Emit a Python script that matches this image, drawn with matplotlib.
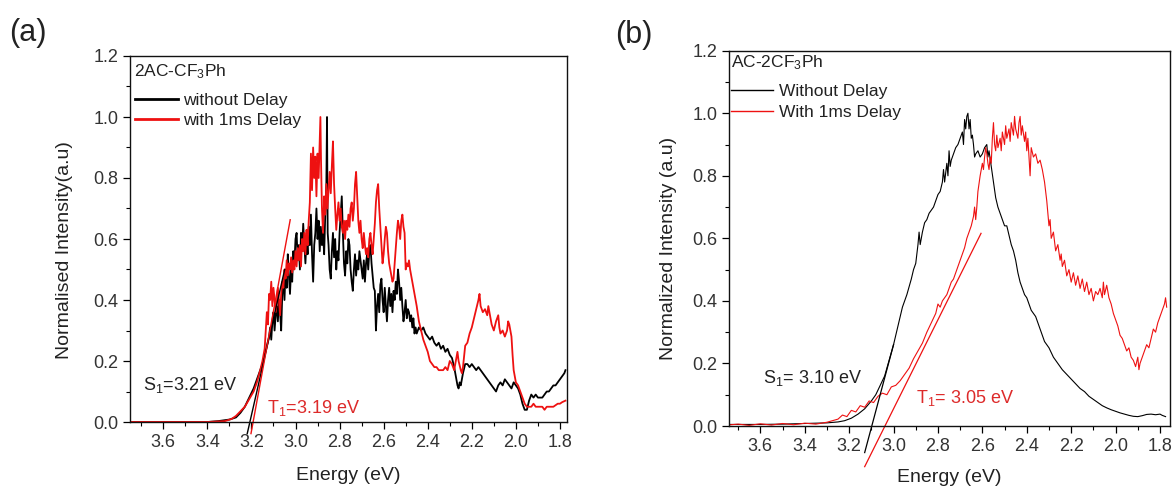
import matplotlib
matplotlib.use("Agg")
import matplotlib.pyplot as plt
from matplotlib.ticker import MultipleLocator

plt.rcParams['font.family'] = ['Liberation Sans', 'DejaVu Sans']
plt.rcParams['mathtext.default'] = 'regular'

# ---------------- Panel (a) data: 2AC-CF3Ph ----------------
a_black_E = [3.75, 3.40, 3.35, 3.30, 3.27, 3.25, 3.23, 3.21, 3.19, 3.17, 3.15, 3.14, 3.13, 3.12, 3.115, 3.11,
             3.105, 3.10, 3.095, 3.09, 3.085, 3.08, 3.075, 3.07, 3.065, 3.06, 3.055, 3.05, 3.045, 3.04, 3.035,
             3.03, 3.025, 3.02, 3.015, 3.01, 3.005, 3.00, 2.995, 2.99, 2.985, 2.98, 2.975, 2.97, 2.965, 2.96,
             2.955, 2.95, 2.945, 2.94, 2.935, 2.93, 2.925, 2.92, 2.915, 2.91, 2.905, 2.90, 2.895, 2.89, 2.885,
             2.88, 2.875, 2.87, 2.865, 2.86, 2.857, 2.854, 2.85, 2.845, 2.84, 2.835, 2.83, 2.825, 2.82, 2.815,
             2.81, 2.805, 2.80, 2.795, 2.79, 2.785, 2.78, 2.775, 2.77, 2.765, 2.76, 2.755, 2.75, 2.745, 2.74,
             2.735, 2.73, 2.725, 2.72, 2.715, 2.71, 2.70, 2.695, 2.69, 2.685, 2.68, 2.675, 2.67, 2.665, 2.66,
             2.655, 2.65, 2.645, 2.64, 2.635, 2.63, 2.625, 2.62, 2.615, 2.61, 2.605, 2.60, 2.595, 2.59, 2.585,
             2.58, 2.575, 2.57, 2.565, 2.56, 2.555, 2.55, 2.545, 2.54, 2.535, 2.53, 2.525, 2.52, 2.515, 2.51,
             2.505, 2.50, 2.495, 2.49, 2.485, 2.48, 2.475, 2.47, 2.465, 2.46, 2.455, 2.45, 2.44, 2.43, 2.42,
             2.41, 2.40, 2.39, 2.38, 2.37, 2.36, 2.35, 2.34, 2.33, 2.32, 2.31, 2.30, 2.29, 2.28, 2.27, 2.265,
             2.26, 2.255, 2.25, 2.245, 2.24, 2.23, 2.22, 2.21, 2.20, 2.19, 2.18, 2.17, 2.16, 2.15, 2.14, 2.13,
             2.12, 2.11, 2.10, 2.09, 2.08, 2.07, 2.06, 2.05, 2.04, 2.03, 2.02, 2.01, 2.00, 1.99, 1.98, 1.97,
             1.96, 1.95, 1.94, 1.93, 1.92, 1.91, 1.90, 1.89, 1.88, 1.87, 1.86, 1.85, 1.84, 1.83, 1.82, 1.81,
             1.80, 1.79, 1.78, 1.775]
a_black_I = [0.0, 0.0, 0.003, 0.008, 0.015, 0.03, 0.05, 0.08, 0.11, 0.15, 0.19, 0.22, 0.25, 0.28, 0.31, 0.27,
             0.33, 0.36, 0.30, 0.35, 0.38, 0.33, 0.40, 0.36, 0.30, 0.42, 0.47, 0.40, 0.50, 0.44, 0.55,
             0.48, 0.42, 0.50, 0.46, 0.56, 0.52, 0.60, 0.62, 0.53, 0.58, 0.50, 0.62, 0.56, 0.65, 0.58,
             0.52, 0.60, 0.55, 0.64, 0.58, 0.68, 0.55, 0.46, 0.58, 0.62, 0.70, 0.60, 0.66, 0.56, 0.64,
             0.58, 0.62, 0.55, 0.68, 0.78, 1.00, 0.62, 0.58, 0.50, 0.47, 0.56, 0.62, 0.54, 0.60, 0.50,
             0.56, 0.53, 0.62, 0.68, 0.74, 0.62, 0.52, 0.48, 0.56, 0.52, 0.60, 0.58, 0.50, 0.46, 0.43,
             0.50, 0.55, 0.48, 0.53, 0.50, 0.56, 0.50, 0.47, 0.53, 0.46, 0.52, 0.55, 0.50, 0.56, 0.58,
             0.52, 0.48, 0.44, 0.43, 0.30, 0.38, 0.42, 0.36, 0.45, 0.47, 0.40, 0.36, 0.44, 0.38, 0.33,
             0.40, 0.44, 0.38, 0.42, 0.36, 0.43, 0.40, 0.46, 0.42, 0.50, 0.46, 0.40, 0.44, 0.38, 0.33,
             0.36, 0.40, 0.34, 0.37, 0.36, 0.33, 0.35, 0.31, 0.34, 0.29, 0.31, 0.29, 0.31, 0.30, 0.31,
             0.29, 0.28, 0.27, 0.28, 0.26, 0.25, 0.26, 0.24, 0.25, 0.23, 0.24, 0.22, 0.21, 0.18, 0.14, 0.12,
             0.11, 0.13, 0.12, 0.14, 0.16, 0.19, 0.19, 0.18, 0.19, 0.18, 0.17, 0.18, 0.17, 0.16, 0.15, 0.14,
             0.13, 0.12, 0.11, 0.10, 0.12, 0.13, 0.12, 0.14, 0.13, 0.12, 0.11, 0.13, 0.12, 0.11, 0.09, 0.06,
             0.04, 0.04, 0.07, 0.09, 0.08, 0.09, 0.08, 0.08, 0.08, 0.09, 0.10, 0.10, 0.11, 0.12, 0.12, 0.13,
             0.14, 0.15, 0.16, 0.17]

a_red_E = [3.75, 3.40, 3.32, 3.29, 3.27, 3.25, 3.23, 3.21, 3.19, 3.175, 3.16, 3.15, 3.14, 3.135, 3.13, 3.125,
           3.12, 3.115, 3.11, 3.105, 3.10, 3.095, 3.09, 3.085, 3.08, 3.075, 3.07, 3.065, 3.06, 3.055, 3.05,
           3.045, 3.04, 3.035, 3.03, 3.025, 3.02, 3.015, 3.01, 3.005, 3.00, 2.995, 2.99, 2.985, 2.98, 2.975,
           2.97, 2.965, 2.96, 2.955, 2.95, 2.945, 2.94, 2.935, 2.93, 2.925, 2.92, 2.915, 2.91, 2.905, 2.90,
           2.895, 2.89, 2.887, 2.884, 2.88, 2.875, 2.87, 2.865, 2.86, 2.855, 2.85, 2.845, 2.84, 2.835, 2.83,
           2.825, 2.82, 2.815, 2.81, 2.805, 2.80, 2.795, 2.79, 2.785, 2.78, 2.775, 2.77, 2.765, 2.76, 2.755,
           2.75, 2.745, 2.74, 2.735, 2.73, 2.725, 2.72, 2.715, 2.71, 2.705, 2.70, 2.695, 2.69, 2.685, 2.68,
           2.675, 2.67, 2.665, 2.66, 2.655, 2.65, 2.645, 2.64, 2.635, 2.63, 2.625, 2.62, 2.615, 2.61, 2.605,
           2.60, 2.595, 2.59, 2.585, 2.58, 2.575, 2.57, 2.565, 2.56, 2.555, 2.55, 2.545, 2.54, 2.535, 2.53,
           2.525, 2.52, 2.515, 2.51, 2.505, 2.50, 2.495, 2.49, 2.485, 2.48, 2.47, 2.46, 2.45, 2.44, 2.43,
           2.42, 2.41, 2.40, 2.39, 2.38, 2.37, 2.36, 2.35, 2.34, 2.33, 2.32, 2.31, 2.30, 2.29, 2.28, 2.27,
           2.265, 2.26, 2.25, 2.245, 2.24, 2.23, 2.22, 2.21, 2.20, 2.19, 2.18, 2.17, 2.165, 2.16, 2.15, 2.14,
           2.13, 2.125, 2.12, 2.11, 2.10, 2.09, 2.08, 2.075, 2.07, 2.06, 2.05, 2.04, 2.035, 2.03, 2.02, 2.015,
           2.01, 2.00, 1.99, 1.98, 1.97, 1.96, 1.95, 1.94, 1.93, 1.92, 1.91, 1.90, 1.89, 1.88, 1.87, 1.86,
           1.85, 1.84, 1.83, 1.82, 1.81, 1.80, 1.79, 1.775]
a_red_I = [0.0, 0.0, 0.003, 0.01, 0.02, 0.035, 0.05, 0.075, 0.10, 0.13, 0.17, 0.20, 0.24, 0.30, 0.36, 0.32,
           0.42, 0.40, 0.46, 0.38, 0.44, 0.40, 0.36, 0.39, 0.44, 0.40, 0.35, 0.42, 0.46, 0.44, 0.50,
           0.47, 0.53, 0.48, 0.52, 0.50, 0.54, 0.49, 0.53, 0.50, 0.56, 0.51, 0.57, 0.53, 0.58, 0.51,
           0.60, 0.56, 0.62, 0.55, 0.63, 0.58, 0.66, 0.72, 0.88, 0.76, 0.90, 0.80, 0.87, 0.74, 0.88,
           0.80, 0.93, 1.00, 0.85, 0.70, 0.62, 0.74, 0.68, 0.78, 0.70, 0.76, 0.82, 0.75, 0.84, 0.92,
           0.78, 0.70, 0.63, 0.68, 0.72, 0.66, 0.70, 0.64, 0.62, 0.66, 0.60, 0.66, 0.63, 0.68, 0.64,
           0.70, 0.72, 0.66, 0.70, 0.78, 0.82, 0.74, 0.66, 0.62, 0.66, 0.60, 0.57, 0.62, 0.58, 0.55,
           0.57, 0.54, 0.60, 0.62, 0.58, 0.55, 0.60, 0.65, 0.72, 0.76, 0.78, 0.70, 0.64, 0.58, 0.52,
           0.55, 0.60, 0.64, 0.62, 0.56, 0.52, 0.50, 0.48, 0.46, 0.47, 0.52, 0.57, 0.62, 0.66, 0.64,
           0.60, 0.66, 0.68, 0.64, 0.62, 0.50, 0.52, 0.51, 0.53, 0.50, 0.46, 0.42, 0.38, 0.33, 0.30,
           0.27, 0.25, 0.23, 0.20, 0.19, 0.18, 0.18, 0.17, 0.17, 0.17, 0.18, 0.17, 0.20, 0.19, 0.17, 0.21,
           0.23, 0.20, 0.17, 0.16, 0.18, 0.25, 0.26, 0.29, 0.31, 0.34, 0.37, 0.40, 0.42, 0.38, 0.36, 0.37,
           0.35, 0.38, 0.36, 0.32, 0.30, 0.33, 0.35, 0.31, 0.29, 0.30, 0.28, 0.30, 0.33, 0.32, 0.28, 0.22,
           0.17, 0.13, 0.12, 0.10, 0.08, 0.06, 0.05, 0.05, 0.05, 0.06, 0.05, 0.05, 0.05, 0.05, 0.04, 0.05,
           0.05, 0.05, 0.05, 0.055, 0.06, 0.06, 0.065, 0.07]

# onset tangent lines (a): end points (energy, intensity)
a_black_tan_E = [3.219, 3.049]
a_black_tan_I = [-0.038, 0.50]
a_red_tan_E = [3.202, 3.024]
a_red_tan_I = [-0.038, 0.663]

# ---------------- Panel (b) data: AC-2CF3Ph ----------------
b_black_E = [3.75, 3.60, 3.50, 3.40, 3.35, 3.30, 3.25, 3.22, 3.19, 3.16, 3.13, 3.10, 3.08, 3.06, 3.04, 3.02,
             3.00, 2.98, 2.96, 2.94, 2.92, 2.91, 2.90, 2.89, 2.885, 2.88, 2.87, 2.86, 2.85, 2.84, 2.83, 2.82,
             2.81, 2.80, 2.79, 2.78, 2.775, 2.77, 2.76, 2.755, 2.75, 2.745, 2.74, 2.73, 2.72, 2.71, 2.70,
             2.69, 2.685, 2.68, 2.675, 2.67, 2.665, 2.66, 2.655, 2.65, 2.645, 2.64, 2.635, 2.63, 2.62, 2.61,
             2.60, 2.59, 2.58, 2.575, 2.57, 2.56, 2.55, 2.54, 2.53, 2.52, 2.51, 2.50, 2.49, 2.48, 2.47, 2.46,
             2.45, 2.44, 2.43, 2.42, 2.41, 2.40, 2.39, 2.38, 2.37, 2.36, 2.35, 2.34, 2.33, 2.32, 2.31, 2.30,
             2.28, 2.26, 2.24, 2.22, 2.20, 2.18, 2.16, 2.14, 2.12, 2.10, 2.08, 2.06, 2.04, 2.02, 2.00, 1.98,
             1.96, 1.94, 1.92, 1.90, 1.88, 1.86, 1.84, 1.82, 1.80, 1.79, 1.775]
b_black_I = [0.005, 0.005, 0.006, 0.008, 0.009, 0.010, 0.013, 0.017, 0.025, 0.038, 0.055, 0.08, 0.10, 0.13,
             0.16, 0.21, 0.26, 0.32, 0.38, 0.42, 0.47, 0.50, 0.52, 0.58, 0.62, 0.58, 0.62, 0.65, 0.66, 0.68,
             0.69, 0.70, 0.72, 0.74, 0.75, 0.78, 0.82, 0.78, 0.84, 0.80, 0.88, 0.83, 0.85, 0.87, 0.89, 0.90,
             0.92, 0.94, 0.90, 0.98, 0.95, 0.99, 1.00, 0.95, 0.98, 0.92, 0.93, 0.90, 0.86, 0.87, 0.88, 0.86,
             0.87, 0.89, 0.90, 0.86, 0.88, 0.83, 0.78, 0.73, 0.70, 0.68, 0.66, 0.64, 0.64, 0.61, 0.58, 0.56,
             0.53, 0.49, 0.46, 0.44, 0.42, 0.41, 0.39, 0.37, 0.36, 0.35, 0.33, 0.31, 0.29, 0.27, 0.26, 0.25,
             0.22, 0.20, 0.18, 0.165, 0.15, 0.135, 0.12, 0.11, 0.095, 0.085, 0.075, 0.065, 0.058, 0.052, 0.047,
             0.042, 0.038, 0.034, 0.031, 0.030, 0.033, 0.037, 0.038, 0.036, 0.038, 0.034, 0.030]

b_red_E = [3.75, 3.70, 3.65, 3.60, 3.55, 3.50, 3.45, 3.40, 3.35, 3.30, 3.27, 3.25, 3.23, 3.21, 3.19, 3.17,
           3.15, 3.13, 3.11, 3.09, 3.07, 3.05, 3.03, 3.01, 2.99, 2.97, 2.95, 2.93, 2.91, 2.89, 2.87, 2.85,
           2.83, 2.81, 2.80, 2.79, 2.78, 2.77, 2.76, 2.75, 2.74, 2.73, 2.72, 2.71, 2.70, 2.69, 2.68, 2.67,
           2.66, 2.65, 2.64, 2.635, 2.63, 2.625, 2.62, 2.61, 2.60, 2.595, 2.59, 2.585, 2.58, 2.575, 2.57,
           2.565, 2.56, 2.555, 2.55, 2.545, 2.54, 2.535, 2.53, 2.52, 2.515, 2.51, 2.50, 2.495, 2.49, 2.48,
           2.475, 2.47, 2.46, 2.455, 2.45, 2.44, 2.435, 2.43, 2.425, 2.42, 2.41, 2.405, 2.40, 2.395, 2.39,
           2.385, 2.38, 2.37, 2.36, 2.35, 2.34, 2.33, 2.325, 2.32, 2.31, 2.30, 2.295, 2.29, 2.28, 2.27, 2.26,
           2.25, 2.245, 2.24, 2.23, 2.22, 2.21, 2.20, 2.19, 2.18, 2.17, 2.16, 2.15, 2.14, 2.13, 2.12, 2.11,
           2.10, 2.09, 2.08, 2.07, 2.06, 2.055, 2.05, 2.04, 2.03, 2.02, 2.01, 2.00, 1.99, 1.98, 1.97, 1.96,
           1.95, 1.94, 1.93, 1.92, 1.91, 1.90, 1.895, 1.89, 1.88, 1.87, 1.86, 1.85, 1.84, 1.83, 1.82, 1.81,
           1.80, 1.79, 1.78, 1.775, 1.77]
b_red_I = [0.003, 0.006, 0.002, 0.007, 0.003, 0.008, 0.004, 0.009, 0.006, 0.012, 0.018, 0.022, 0.035, 0.030,
           0.050, 0.045, 0.065, 0.060, 0.080, 0.075, 0.095, 0.105, 0.100, 0.125, 0.130, 0.145, 0.165, 0.185,
           0.215, 0.24, 0.265, 0.30, 0.33, 0.36, 0.39, 0.38, 0.40, 0.41, 0.42, 0.44, 0.46, 0.47, 0.49, 0.51,
           0.53, 0.55, 0.57, 0.60, 0.62, 0.64, 0.67, 0.70, 0.66, 0.70, 0.75, 0.80, 0.84, 0.82, 0.86, 0.89,
           0.87, 0.84, 0.82, 0.86, 0.84, 0.92, 0.97, 0.90, 0.88, 0.93, 0.89, 0.92, 0.88, 0.94, 0.90, 0.96,
           0.92, 0.95, 0.91, 0.97, 0.93, 0.99, 0.95, 0.92, 0.97, 0.99, 0.93, 0.96, 0.91, 0.94, 0.88, 0.92,
           0.86, 0.80, 0.89, 0.86, 0.87, 0.84, 0.85, 0.82, 0.80, 0.78, 0.72, 0.64, 0.66, 0.60, 0.62, 0.56,
           0.58, 0.53, 0.55, 0.51, 0.53, 0.48, 0.50, 0.46, 0.49, 0.45, 0.48, 0.44, 0.47, 0.43, 0.46, 0.42,
           0.44, 0.40, 0.43, 0.42, 0.44, 0.41, 0.46, 0.42, 0.45, 0.41, 0.39, 0.36, 0.34, 0.32, 0.29, 0.28,
           0.26, 0.24, 0.25, 0.22, 0.21, 0.19, 0.22, 0.18, 0.20, 0.22, 0.24, 0.26, 0.25, 0.28, 0.31, 0.30,
           0.33, 0.35, 0.37, 0.39, 0.41, 0.38]

b_black_tan_E = [3.13, 3.00]
b_black_tan_I = [-0.085, 0.26]
b_red_tan_E = [3.13, 2.606]
b_red_tan_I = [-0.13, 0.616]

x_ticks = [3.6, 3.4, 3.2, 3.0, 2.8, 2.6, 2.4, 2.2, 2.0, 1.8]
y_ticks = [0.0, 0.2, 0.4, 0.6, 0.8, 1.0, 1.2]

RED = '#ee1111'
TXT_RED = '#dd2a2a'
TXT = '#222222'
TICK_C = '#333333'

W, H = 1174, 486
fig = plt.figure(figsize=(W / 100, H / 100), dpi=100)


def px_axes(l, r, t, b):
    return fig.add_axes([l / W, 1 - b / H, (r - l) / W, (b - t) / H])


def style(ax, xlim):
    ax.set_xlim(*xlim)
    ax.set_ylim(0, 1.2)
    ax.set_xticks(x_ticks)
    ax.set_xticklabels([f"{v:.1f}" for v in x_ticks])
    ax.set_yticks(y_ticks)
    ax.set_yticklabels([f"{v:.1f}" for v in y_ticks])
    ax.xaxis.set_minor_locator(MultipleLocator(0.1))
    ax.yaxis.set_minor_locator(MultipleLocator(0.1))
    ax.tick_params(which='major', direction='out', length=5, width=0.9, labelsize=13,
                   labelcolor=TICK_C, pad=3.5, top=False, right=False)
    ax.tick_params(which='minor', direction='out', length=3, width=0.8, top=False, right=False)
    for s in ax.spines.values():
        s.set_linewidth(1.0)
        s.set_color('#111111')


def legend(ax, handles, x, yc, spacing, lw):
    leg = ax.legend(handles=handles, loc='center left', bbox_to_anchor=(x, yc),
                    borderaxespad=0.0, borderpad=0.0, handlelength=2.45, handletextpad=0.3,
                    labelspacing=spacing, frameon=False, fontsize=12.5)
    for line in leg.get_lines():
        line.set_linewidth(lw)
    for t in leg.get_texts():
        t.set_color(TXT)
    return leg


# ---------------- Panel (a) ----------------
axa = px_axes(130, 567, 56, 422)
style(axa, (3.751, 1.768))
la1, = axa.plot(a_black_E, a_black_I, color='black', lw=1.3, label='without Delay')
la2, = axa.plot(a_red_E, a_red_I, color=RED, lw=1.3, label='with 1ms Delay')
axa.plot(a_black_tan_E, a_black_tan_I, color='black', lw=1.0, clip_on=False)
axa.plot(a_red_tan_E, a_red_tan_I, color=RED, lw=1.0, clip_on=False)
axa.text(3.69, 0.12, 'S$_1$=3.21 eV', fontsize=13, color=TXT, ha='left', va='center')
axa.text(3.129, 0.046, 'T$_1$=3.19 eV', fontsize=13, color=TXT_RED, ha='left', va='center')
axa.text(0.009, 0.956, '2AC-CF$_3$Ph', transform=axa.transAxes, fontsize=12.5, color=TXT,
         ha='left', va='center')
legend(axa, [la1, la2], 0.0114, 0.852, 0.27, 2.0)
axa.set_xlabel('Energy (eV)', fontsize=14, color=TXT)
axa.set_ylabel('Normalised Intensity(a.u)', fontsize=14, color=TXT)
axa.xaxis.set_label_coords(0.5, -0.145)
axa.xaxis.label.set_va('center')
axa.yaxis.set_label_coords(-0.151, 0.47)
axa.yaxis.label.set_va('center')

# ---------------- Panel (b) ----------------
axb = px_axes(729, 1170, 50.7, 426)
style(axb, (3.741, 1.755))
lb1, = axb.plot(b_black_E, b_black_I, color='black', lw=0.8, label='Without Delay')
lb2, = axb.plot(b_red_E, b_red_I, color=RED, lw=0.8, label='With 1ms Delay')
axb.plot(b_black_tan_E, b_black_tan_I, color='black', lw=0.9, clip_on=False)
axb.plot(b_red_tan_E, b_red_tan_I, color=RED, lw=0.9, clip_on=False)
axb.text(3.59, 0.153, 'S$_1$= 3.10 eV', fontsize=13, color=TXT, ha='left', va='center')
axb.text(2.899, 0.09, 'T$_1$= 3.05 eV', fontsize=13, color=TXT_RED, ha='left', va='center')
axb.text(0.005, 0.967, 'AC-2CF$_3$Ph', transform=axb.transAxes, fontsize=12.5, color=TXT,
         ha='left', va='center')
legend(axb, [lb1, lb2], 0.004, 0.8636, 0.36, 1.0)
axb.set_xlabel('Energy (eV)', fontsize=14, color=TXT)
axb.set_ylabel('Normalized Intensity (a.u)', fontsize=14, color=TXT)
axb.xaxis.set_label_coords(0.5, -0.136)
axb.xaxis.label.set_va('center')
axb.yaxis.set_label_coords(-0.138, 0.473)
axb.yaxis.label.set_va('center')

fig.text(28 / W, 1 - 32.5 / H, '(a)', fontsize=22, ha='center', va='center', color=TXT)
fig.text(634 / W, 1 - 35 / H, '(b)', fontsize=22, ha='center', va='center', color=TXT)

fig.savefig('out.png', dpi=100)
